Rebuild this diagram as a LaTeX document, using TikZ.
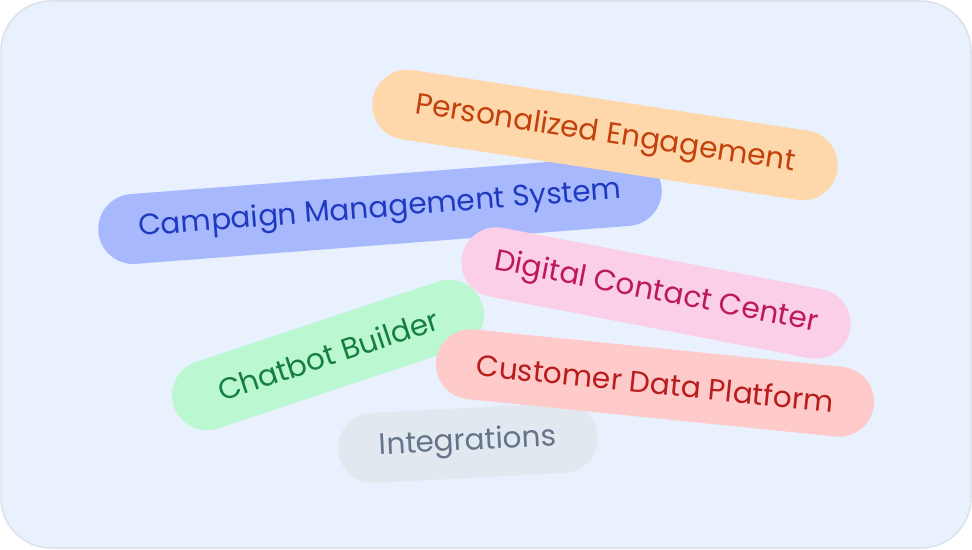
\documentclass[tikz,border=0pt]{standalone}
\usepackage{fontspec}
\setmainfont{Poppins}
\definecolor{bgfill}{HTML}{E9F0FE}
\definecolor{bgline}{HTML}{DCE1EA}
\definecolor{orfill}{HTML}{FED7AA}\definecolor{ortext}{HTML}{C2410C}
\definecolor{blfill}{HTML}{A8B8FD}\definecolor{bltext}{HTML}{1E3AC0}
\definecolor{pkfill}{HTML}{FBCFE8}\definecolor{pktext}{HTML}{BE185D}
\definecolor{grfill}{HTML}{BBF7D0}\definecolor{grtext}{HTML}{15803D}
\definecolor{rdfill}{HTML}{FECACA}\definecolor{rdtext}{HTML}{B91C1C}
\definecolor{gyfill}{HTML}{E2E8F0}\definecolor{gytext}{HTML}{64748B}
\begin{document}
\begin{tikzpicture}[x=1pt,y=1pt]
\tikzstyle{pill} = [rectangle, rounded corners=35pt, minimum height=70pt,
inner xsep=20pt, font=\fontsize{29.5}{30}\selectfont]
\useasboundingbox (0,0) rectangle (972,549);
\draw[bgline, fill=bgfill, line width=1.5pt, rounded corners=50pt] (1,1) rectangle (971,548);
% back to front
\node [pill, fill=blfill, text=bltext, rotate=4.4, minimum width=565pt] (campaign) at (380,339) {Campaign Management System};
\node [pill, fill=orfill, text=ortext, rotate=-8.7, minimum width=470pt] (personal) at (605,414) {Personalized Engagement};
\node [pill, fill=pkfill, text=pktext, rotate=-10.9, minimum width=395pt] (digital) at (656,256) {Digital Contact Center};
\node [pill, fill=gyfill, text=gytext, rotate=3, minimum width=260pt] (integr) at (468,106) {Integrations};
\node [pill, fill=grfill, text=grtext, rotate=18.4, minimum width=325pt] (chatbot) at (328,194) {Chatbot Builder};
\node [pill, fill=rdfill, text=rdtext, rotate=-5.8, minimum width=440pt] (customer) at (655,166) {Customer Data Platform};
\end{tikzpicture}
\end{document}
